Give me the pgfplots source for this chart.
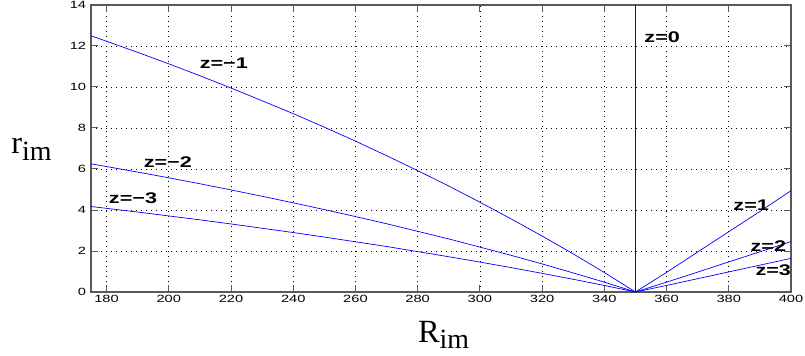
\documentclass[border=0pt]{standalone}
\usepackage{fontspec}
\setmainfont{Liberation Serif}
\setsansfont{Liberation Sans}
\usepackage{pgfplots}
\pgfplotsset{compat=1.18}
\begin{document}
\begin{tikzpicture}
\begin{axis}[
  at={(0,0)}, anchor=south west,
  scale only axis,
  width=700bp, height=287bp,
  xmin=175, xmax=400, ymin=0, ymax=14,
  xtick={180,200,...,400}, ytick={0,2,...,14},
  xtick pos=both, ytick pos=both,
  xticklabel pos=lower, yticklabel pos=left,
  tick align=inside,
  major tick length=7bp,
  grid=major,
  major grid style={black, line width=0.6bp, dash pattern=on 1.2bp off 3.8bp},
  axis line style={black!65, line width=1.2bp},
  tick style={black!65, line width=1bp},
  tick label style={font=\sffamily\fontsize{10.5}{11}\selectfont, xscale=1.4},
  /pgf/number format/assume math mode=true,
  xlabel={\fontsize{32.5}{33}\selectfont R\raisebox{-6.5bp}{\fontsize{28}{28}\selectfont im}},
  xlabel style={at={(axis description cs:0.5036,-0.15)}, anchor=center},
  ylabel={\fontsize{32.5}{33}\selectfont r\raisebox{-7bp}{\fontsize{28}{28}\selectfont im}},
  ylabel style={rotate=-90, at={(axis description cs:-0.085,0.4965)}, anchor=center},
]
% z=-1
\addplot[blue, line width=0.7bp] coordinates {(175,12.50)(180,12.23)(190,11.69)(200,11.13)(210,10.55)(220,9.95)(230,9.33)(240,8.70)(250,8.04)(260,7.36)(270,6.65)(280,5.92)(290,5.17)(300,4.38)(310,3.57)(320,2.73)(330,1.86)(340,0.95)(350,0)};
% z=-2
\addplot[blue, line width=0.7bp] coordinates {(175,6.25)(180,6.12)(190,5.85)(200,5.57)(210,5.28)(220,4.98)(230,4.67)(240,4.35)(250,4.02)(260,3.68)(270,3.33)(280,2.96)(290,2.59)(300,2.19)(310,1.79)(320,1.37)(330,0.93)(340,0.48)(350,0)};
% z=-3
\addplot[blue, line width=0.7bp] coordinates {(175,4.17)(180,4.08)(190,3.90)(200,3.71)(210,3.52)(220,3.32)(230,3.11)(240,2.90)(250,2.68)(260,2.45)(270,2.22)(280,1.97)(290,1.72)(300,1.46)(310,1.19)(320,0.91)(330,0.62)(340,0.32)(350,0)};
% z=0
\addplot[blue, line width=1.3bp] coordinates {(350,0)(350,14)};
% z=1
\addplot[blue, line width=0.7bp] coordinates {(350,0)(360,0.96)(370,1.95)(380,2.94)(390,3.93)(400,4.94)};
% z=2
\addplot[blue, line width=0.7bp] coordinates {(350,0)(360,0.48)(370,0.97)(380,1.47)(390,1.96)(400,2.46)};
% z=3
\addplot[blue, line width=0.7bp] coordinates {(350,0)(360,0.32)(370,0.65)(380,0.98)(390,1.31)(400,1.64)};
\begin{scope}[every node/.style={font=\sffamily\bfseries\fontsize{15.5}{16}\selectfont, xscale=1.4, inner sep=0pt}]
\node at (axis cs:217.7,11.17) {z=−1};
\node at (axis cs:199.7,6.34) {z=−2};
\node at (axis cs:188.5,4.59) {z=−3};
\node at (axis cs:358.6,12.44) {z=0};
\node at (axis cs:387.2,4.24) {z=1};
\node at (axis cs:392.7,2.24) {z=2};
\node at (axis cs:394.3,1.04) {z=3};
\end{scope}
\end{axis}
\pgfresetboundingbox
\path[use as bounding box] (-91bp,-64bp) rectangle (714bp,292bp);
\end{tikzpicture}
\end{document}
